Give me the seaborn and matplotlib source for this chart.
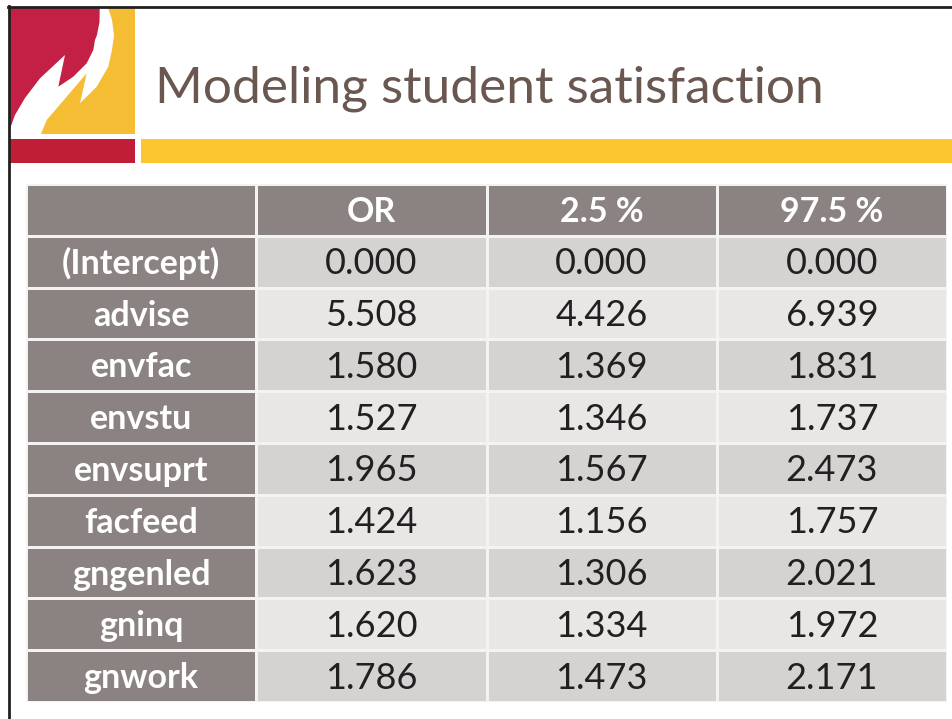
import matplotlib
matplotlib.use("Agg")
import matplotlib.pyplot as plt
from matplotlib.colors import ListedColormap
from matplotlib.patches import Rectangle, Polygon
import numpy as np
import seaborn as sns

# table data
columns = ["", "OR", "2.5 %", "97.5 %"]
terms = ["(Intercept)", "advise", "envfac", "envstu", "envsuprt",
         "facfeed", "gngenled", "gninq", "gnwork"]
odds_ratio = [0.000, 5.508, 1.580, 1.527, 1.965, 1.424, 1.623, 1.620, 1.786]
ci_low = [0.000, 4.426, 1.369, 1.346, 1.567, 1.156, 1.306, 1.334, 1.473]
ci_high = [0.000, 6.939, 1.831, 1.737, 2.473, 1.757, 2.021, 1.972, 2.171]

title = "Modeling student satisfaction"

# build cell codes (0 = header gray, 1 = dark row, 2 = light row) and labels
n_rows = len(terms) + 1
codes = np.zeros((n_rows, 4))
labels = np.empty((n_rows, 4), dtype=object)
labels[0] = columns
for i, t in enumerate(terms):
    r = i + 1
    codes[r, 1:] = 1 if i % 2 == 0 else 2
    labels[r, 0] = t
    labels[r, 1] = f"{odds_ratio[i]:.3f}"
    labels[r, 2] = f"{ci_low[i]:.3f}"
    labels[r, 3] = f"{ci_high[i]:.3f}"

W, H = 952, 719
fig = plt.figure(figsize=(9.52, 7.19), dpi=100)
fig.patch.set_facecolor("white")


def fx(x):
    return x / W


def fy(y):
    return 1 - y / H


def pts(seq):
    return [(fx(x), fy(y)) for x, y in seq]


# slide frame
fig.add_artist(plt.Line2D([fx(8), fx(952)], [fy(6.5), fy(6.5)], color="#231f20", lw=2))
fig.add_artist(plt.Line2D([fx(8.5), fx(8.5)], [fy(6), fy(719)], color="#231f20", lw=2))

# logo block: yellow square, white flame, red corner
fig.add_artist(Rectangle((fx(9.5), fy(134)), fx(125.5), 126.5 / H, color="#f4bd33", lw=0))
flame = [(9.5, 7.5), (108, 7.5), (112, 20), (114, 35), (112, 50), (108.3, 66.7),
         (96.7, 86.7), (80, 103.3), (86.7, 73.3), (46.7, 120), (41, 134), (9.5, 134)]
fig.add_artist(Polygon(pts(flame), closed=True, color="white", lw=0))
red_pts = [(9.5, 7.5), (99.7, 7.5), (99.5, 22), (97, 35), (95, 40), (93.3, 50),
           (86.7, 63.3), (73.3, 76.7), (58.3, 86.7), (65, 55), (40, 78.3),
           (25, 98), (15, 115), (9.5, 130)]
fig.add_artist(Polygon(pts(red_pts), closed=True, color="#c41f45", lw=0))
fig.add_artist(Rectangle((fx(9.5), fy(163)), fx(125.5), 24 / H, color="#bf1e36", lw=0))
fig.add_artist(Rectangle((fx(141), fy(163)), fx(811), 24 / H, color="#fbc62f", lw=0))

fig.text(fx(155), fy(102), title, fontsize=37, color="#6a5850",
         family="Lato", va="baseline", ha="left")

# table as a heatmap
ax = fig.add_axes([fx(26), fy(702), fx(947 - 26), (702 - 184) / H])
cmap = ListedColormap(["#8a8382", "#d4d3d2", "#e8e7e6"])
sns.heatmap(codes, ax=ax, cmap=cmap, vmin=-0.5, vmax=2.5, cbar=False,
            annot=labels, fmt="", linewidths=2, linecolor="#f4f3f2",
            annot_kws={"fontsize": 26, "family": "Lato"})
ax.set_xticks([])
ax.set_yticks([])
for sp in ax.spines.values():
    sp.set_visible(False)

for txt in ax.texts:
    x, y = txt.get_position()
    row, col = int(y), int(x)
    txt.set_position((x, y + 0.04))
    if row == 0 or col == 0:
        txt.set_color("white")
        txt.set_fontweight("bold")
        txt.set_fontsize(24.5)
    else:
        txt.set_color("#231f20")

fig.savefig("out.png", dpi=100)
